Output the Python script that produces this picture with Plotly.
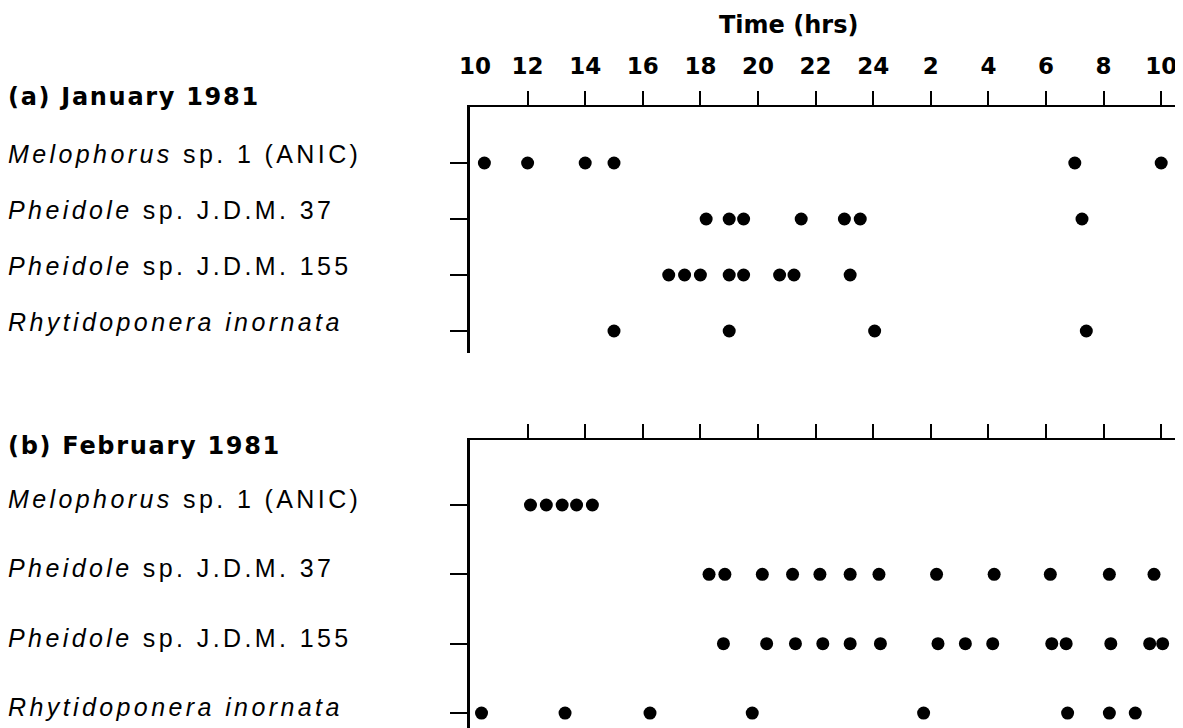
import plotly.graph_objects as go

# ---- data (hours on a continuous 10 -> 34 clock, 24+ = next day) ----
hour_ticks = [10, 12, 14, 16, 18, 20, 22, 24, 26, 28, 30, 32, 34]
hour_labels = ["10", "12", "14", "16", "18", "20", "22", "24", "2", "4", "6", "8", "10"]

genus = ["Melophorus", "Pheidole", "Pheidole", "Rhytidoponera inornata"]
rest = [" sp. 1 (ANIC)", " sp. J.D.M. 37", " sp. J.D.M. 155", ""]

jan_melophorus = [10.5, 12.0, 14.0, 15.0, 31.0, 34.0]
jan_pheidole37 = [18.2, 19.0, 19.5, 21.5, 23.0, 23.55, 31.25]
jan_pheidole155 = [16.9, 17.45, 18.0, 19.0, 19.5, 20.75, 21.25, 23.2]
jan_rhytido = [15.0, 19.0, 24.05, 31.4]

feb_melophorus = [12.1, 12.65, 13.2, 13.7, 14.25]
feb_pheidole37 = [18.3, 18.85, 20.15, 21.2, 22.15, 23.2, 24.2, 26.2, 28.2, 30.15, 32.2, 33.75]
feb_pheidole155 = [18.8, 20.3, 21.3, 22.25, 23.2, 24.25, 26.25, 27.2, 28.15, 30.2, 30.7, 32.25, 33.6, 34.05]
feb_rhytido = [10.4, 13.3, 16.25, 19.8, 25.75, 30.75, 32.2, 33.1]

jan = [jan_melophorus, jan_pheidole37, jan_pheidole155, jan_rhytido]
feb = [feb_melophorus, feb_pheidole37, feb_pheidole155, feb_rhytido]

W, H = 1183, 728
OFF_X, OFF_Y = 6, 7  # page body offset


def px_x(px):
    return (px - OFF_X) / W


def px_y(px):
    return 1 - (px - OFF_Y) / H


fig = go.Figure()

for series, xa, ya in [(jan, "x", "y"), (feb, "x2", "y2")]:
    for row, xs in enumerate(series):
        fig.add_trace(go.Scatter(
            x=xs, y=[row] * len(xs), mode="markers", xaxis=xa, yaxis=ya,
            marker=dict(color="black", size=13, line=dict(width=0)),
            showlegend=False, hoverinfo="x", cliponaxis=False))

BOLD = "DejaVu Sans"
xrange = [10, 10 + (W + OFF_X - 468) / 28.8]
common_x = dict(range=xrange, domain=[px_x(468), 1], side="top", showline=True,
                linecolor="black", linewidth=2, ticks="outside", ticklen=14,
                tickwidth=2, tickcolor="black", showgrid=False, zeroline=False,
                tickvals=hour_ticks[1:], automargin=False)
common_y = dict(showline=True, linecolor="black", linewidth=2.5, ticks="outside",
                ticklen=17, tickwidth=2, tickcolor="black", showgrid=False,
                zeroline=False, tickvals=[0, 1, 2, 3], showticklabels=False,
                automargin=False)

fig.update_layout(
    width=W, height=H, margin=dict(l=0, r=0, t=0, b=0, autoexpand=False),
    paper_bgcolor="white", plot_bgcolor="white",
    xaxis=dict(common_x, anchor="y", ticktext=hour_labels[1:],
               tickfont=dict(family=BOLD, size=23, color="black", weight="bold"),
               ticklabelstandoff=8),
    yaxis=dict(common_y, domain=[px_y(352), px_y(106)], range=[3.393, -1.0],
               anchor="x"),
    xaxis2=dict(common_x, anchor="y2", showticklabels=False),
    yaxis2=dict(common_y, domain=[px_y(728), px_y(439)], range=[3.23, -0.9375],
                anchor="x2"),
)

# first "10" label at the corner (no tick drawn there)
fig.add_annotation(x=hour_ticks[0], xref="x", y=px_y(65), yref="paper",
                   text=hour_labels[0], showarrow=False, xshift=5,
                   yanchor="middle",
                   font=dict(family=BOLD, size=23, color="black", weight="bold"))

fig.add_annotation(x=px_x(786), xref="paper", y=px_y(24), yref="paper",
                   text="Time (hrs)", showarrow=False, yanchor="middle",
                   font=dict(family=BOLD, size=24, color="black", weight="bold"))

label_font = dict(family="Liberation Sans", size=25, color="black")
head_font = dict(family=BOLD, size=24, color="black", weight="bold")


def spaced(t, px):
    return "<span style='letter-spacing:%spx'>%s</span>" % (px, t)


for text, ypx in [("(a) January 1981", 96), ("(b) February 1981", 445)]:
    fig.add_annotation(x=px_x(4), xref="paper", y=px_y(ypx), yref="paper",
                       text=spaced(text, 1.7), showarrow=False, xanchor="left",
                       yanchor="middle", font=head_font)

for ya, shift in [("y", 9), ("y2", 6)]:
    for row in range(4):
        g = genus[row]
        if row == 3:
            txt = "<i>" + g + "</i>"
        else:
            txt = "<i>" + g + "</i>" + rest[row]
        fig.add_annotation(x=px_x(4), xref="paper", y=row, yref=ya, yshift=shift,
                           text=spaced(txt, 3.4), showarrow=False, xanchor="left",
                           yanchor="middle", font=label_font)

fig.write_html("out.html")
